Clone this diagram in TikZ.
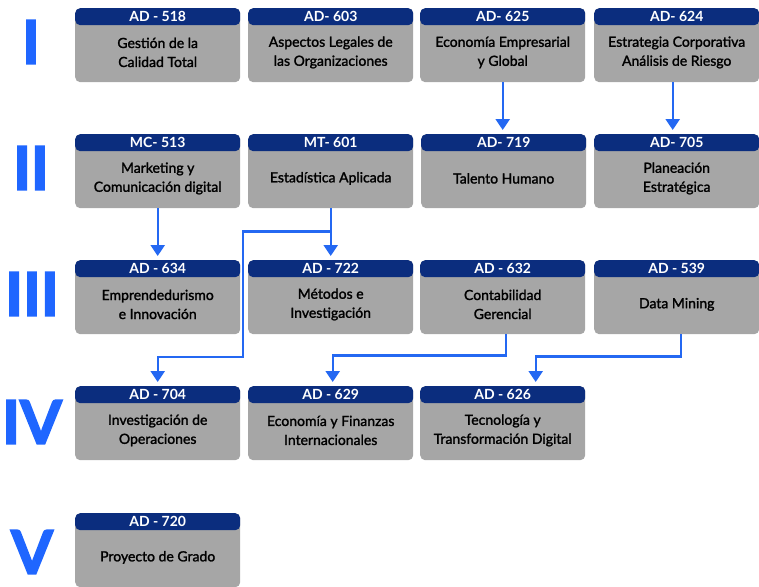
\documentclass[tikz,border=0pt]{standalone}
\usepackage{fontspec}
\setmainfont{Lato}
\newfontfamily\bodyFont[FakeBold=1.6]{Lato}
\newfontfamily\romanFont[FakeBold=3]{Lato Bold}
\usepackage{xcolor}
\usetikzlibrary{calc}
\usetikzlibrary{arrows.meta,positioning}

\definecolor{headBlue}{HTML}{0B2D7E}
\definecolor{boxGray}{HTML}{A6A6A6}
\definecolor{lineBlue}{HTML}{2468F2}
\definecolor{romanBlue}{HTML}{1F66FF}

\tikzset{
	courseBox/.style={rectangle, rounded corners=5pt, fill=boxGray, minimum width=165pt, minimum height=74pt, inner sep=0pt},
	headBox/.style={rectangle, rounded corners=5pt, fill=headBlue, text=white, minimum width=165pt, minimum height=17pt, inner sep=0pt, font=\bfseries\fontsize{14}{15}\selectfont},
	courseText/.style={align=center, font=\bodyFont\fontsize{14}{19}\selectfont},
	romanNum/.style={text=romanBlue, font=\romanFont\fontsize{60}{60}\selectfont},
	prereq/.style={draw=lineBlue, line width=2.4pt, -{Triangle[width=14pt,length=11pt]}, shorten >=4pt}
}

\begin{document}
\begin{tikzpicture}[x=1pt,y=-1pt] % study plan
		% name, left, top, code, title
		\newcommand{\course}[5]{%
			\node[courseBox, anchor=north west] (#1) at (#2,#3) {};
			\node[headBox, anchor=north] (#1h) at (#1.north) {#4};
			\node[courseText] (#1t) at ($(#1h.south)!0.5!(#1.south)+(0,-1.5)$) {#5};
		}
		\useasboundingbox (0,0) rectangle (759,586);
		
		% semesters
		\node[romanNum] (rI) at (31,42) {I};
		\node[romanNum] (rII) at (31,168) {II};
		\node[romanNum] (rIII) at (32,294) {III};
		\node[romanNum] (rIV) at (32,422) {IV};
		\node[romanNum] (rV) at (32,552) {V};
		
		% row I
		\course{c518}{75}{8}{AD - 518}{Gestión de la\\Calidad Total}
		\course{c603}{248}{8}{AD- 603}{Aspectos Legales de\\las Organizaciones}
		\course{c625}{420}{8}{AD- 625}{Economía Empresarial\\y Global}
		\course{c624}{594}{8}{AD- 624}{Estrategia Corporativa\\Análisis de Riesgo}
		
		% row II
		\course{c513}{75}{134}{MC- 513}{Marketing y\\Comunicación digital}
		\course{c601}{248}{134}{MT- 601}{Estadística Aplicada}
		\course{c719}{421}{134}{AD- 719}{Talento Humano}
		\course{c705}{594}{134}{AD- 705}{Planeación\\Estratégica}
		
		% row III
		\course{c634}{75}{260}{AD - 634}{Emprendedurismo\\e Innovación}
		\course{c722}{248}{260}{AD - 722}{Métodos e\\Investigación}
		\course{c632}{420}{260}{AD - 632}{Contabilidad\\Gerencial}
		\course{c539}{594}{260}{AD - 539}{Data Mining}
		
		% row IV
		\course{c704}{75}{386}{AD - 704}{Investigación de\\Operaciones}
		\course{c629}{248}{386}{AD - 629}{Economía y Finanzas\\Internacionales}
		\course{c626}{420}{386}{AD - 626}{Tecnología y\\Transformación Digital}
		
		% row V
		\course{c720}{75}{513}{AD - 720}{Proyecto de Grado}
		
		% prerequisites
		\draw[prereq] (c625.south) -- (c625.south |- c719.north);
		\draw[prereq] ([xshift=-4pt]c624.south) -- ([xshift=-4pt]c705.north);
		\draw[prereq] (c513.south) -- (c634.north);
		\draw[prereq] (c601.south) -- (c722.north);
		\coordinate (turnA) at (243,357);
		\draw[prereq] (c601.south) -- ++(0,23) -| (turnA) -| (c704.north);
		\draw[prereq] ([xshift=3pt]c632.south) -- ++(0,21) -| ([xshift=2pt]c629.north);
		\draw[prereq] ([xshift=4pt]c539.south) -- ++(0,22) -| ([xshift=33pt]c626.north);
\end{tikzpicture}
\end{document}
